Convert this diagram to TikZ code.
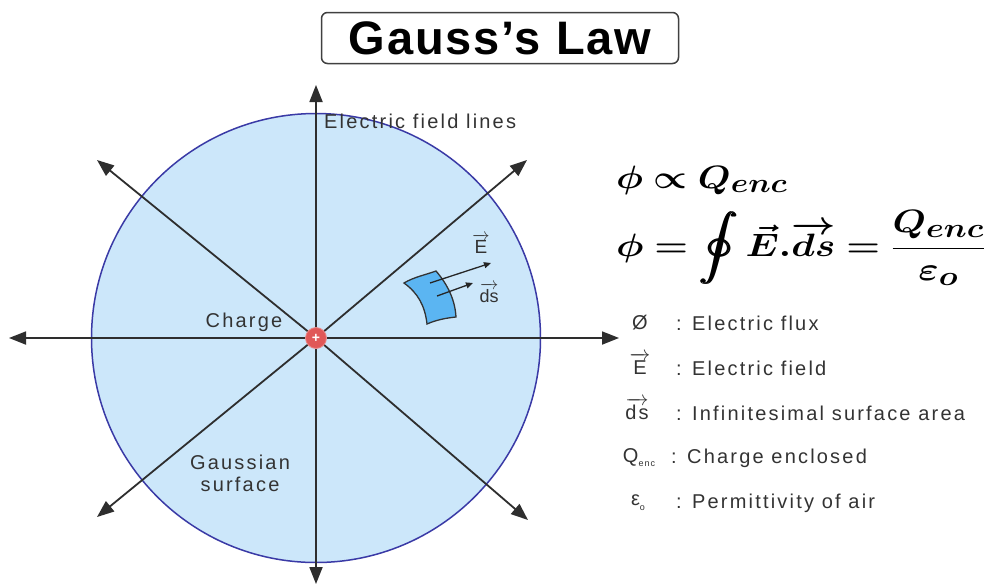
\documentclass[tikz,border=0pt]{standalone}
\usepackage{amsmath}
\usepackage{amssymb}
\usepackage{bm}
\usepackage{graphicx}
\usepackage[no-math]{fontspec}
\setmainfont{Liberation Sans}
\usepackage{xcolor}
\usetikzlibrary{arrows.meta, positioning}
\definecolor{gsFill}{HTML}{CCE7FA}
\definecolor{gsEdge}{HTML}{3A3AA6}
\definecolor{gsPatch}{HTML}{5BB5F2}
\definecolor{gsCharge}{HTML}{E05858}
\definecolor{gsLine}{HTML}{2E2E2E}
\definecolor{gsText}{HTML}{333333}
\newcommand{\sfvec}[1]{$\overrightarrow{\text{#1}}$}
\tikzset{
  fieldline/.style={-{Triangle[length=17pt, width=13pt]}, line width=1.8pt, gsLine},
  patcharrow/.style={-{Triangle[length=7pt, width=6pt]}, line width=1.3pt, black!85},
  gslabel/.style={font=\fontsize{20}{23}\selectfont\addfontfeature{LetterSpace=11}, text=gsText, inner sep=1pt},
  legsym/.style={gslabel, anchor=center},
  legtxt/.style={gslabel, anchor=west},
  titlebox/.style={draw=black!75, line width=1.5pt, rounded corners=6pt,
    minimum width=357pt, minimum height=51pt, inner sep=0pt,
    font=\fontsize{47}{50}\selectfont\bfseries\addfontfeature{LetterSpace=4}},
  formula/.style={anchor=west, inner sep=0pt, font=\Huge}
}
\begin{document}
\begin{tikzpicture}[x=1pt, y=-1pt]
  \useasboundingbox[fill=white] (0,0) rectangle (992,587);
  % title
  \node[titlebox] (title) at (500,38) {Gauss’s Law};
  % gaussian surface and field lines
  \coordinate (o) at (316,338);
  \node[circle, draw=gsEdge, fill=gsFill, line width=1.5pt, minimum size=449pt, inner sep=0pt] (gauss) at (o) {};
  \coordinate (fTop) at (316,85);
  \coordinate (fBot) at (316,584);
  \coordinate (fLeft) at (9,338);
  \coordinate (fRight) at (619,338);
  \coordinate (fTL) at (97,160);
  \coordinate (fTR) at (527,160);
  \coordinate (fBL) at (97,517);
  \coordinate (fBR) at (528,520);
  \foreach \tip in {fTop, fBot, fLeft, fRight, fTL, fTR, fBL, fBR}
    \draw[fieldline] (o) -- (\tip);
  \node[circle, fill=gsCharge, draw=gsCharge!70, line width=0.8pt, minimum size=21pt, inner sep=0pt,
    text=white, font=\fontsize{14}{14}\selectfont\bfseries] (charge) at (o) {+};
  % surface element
  \draw[fill=gsPatch, draw=black!80, line width=1.3pt]
    (404,283) .. controls (414,277) and (425,275) .. (436,271)
    .. controls (448,285) and (455,300) .. (456,317)
    .. controls (446,318) and (436,320) .. (427,324)
    .. controls (425,306) and (418,293) .. (404,283) -- cycle;
  \coordinate (eTail) at (430,283);
  \coordinate (eTip) at (491,263);
  \coordinate (dsTail) at (437,296);
  \coordinate (dsTip) at (473,283);
  \draw[patcharrow] (eTail) -- (eTip);
  \draw[patcharrow] (dsTail) -- (dsTip);
  \node[gslabel, font=\fontsize{19}{20}\selectfont] (eLbl) at (481,244) {\sfvec{E}};
  \node[gslabel, font=\fontsize{18}{20}\selectfont] (dsLbl) at (489,293) {\sfvec{ds}};
  % labels
  \node[gslabel, anchor=west] (fieldLbl) at (323,121) {Electric field lines};
  \node[gslabel] (chargeLbl) at (244,322) {Charge};
  \node[gslabel, align=center] (surfLbl) at (240,473) {Gaussian\\[-1pt]surface};
  % formulas
  \node[formula] (propto) at (616,180) {\scalebox{1.52}[1.3]{$\bm{\phi \propto Q_{enc}}$}};
  \node[formula] (lawEq) at (616,248) {\scalebox{1.55}[1.3]{$\displaystyle\bm{\phi = \oint \vec{E}.\overrightarrow{ds} = \frac{Q_{enc}}{\varepsilon_o}}$}};
  % legend
  \node[legsym] (sPhi) at (640,323) {Ø};
  \node[legsym] (sE) at (640,364) {\sfvec{E}};
  \node[legsym] (sDs) at (637,409) {\sfvec{ds}};
  \node[legsym] (sQ) at (639,458) {Q\raisebox{-4pt}{\fontsize{9}{9}\selectfont enc}};
  \node[legsym] (sEps) at (638,503) {ε\raisebox{-5pt}{\fontsize{9}{9}\selectfont o}};
  \node[legtxt] (tPhi) at (675,323) {: Electric flux};
  \node[legtxt] (tE) at (675,368) {: Electric field};
  \node[legtxt] (tDs) at (675,413) {: Infinitesimal surface area};
  \node[legtxt] (tQ) at (670,458) {: Charge enclosed};
  \node[legtxt] (tEps) at (675,503) {: Permittivity of air};
\end{tikzpicture}
\end{document}
